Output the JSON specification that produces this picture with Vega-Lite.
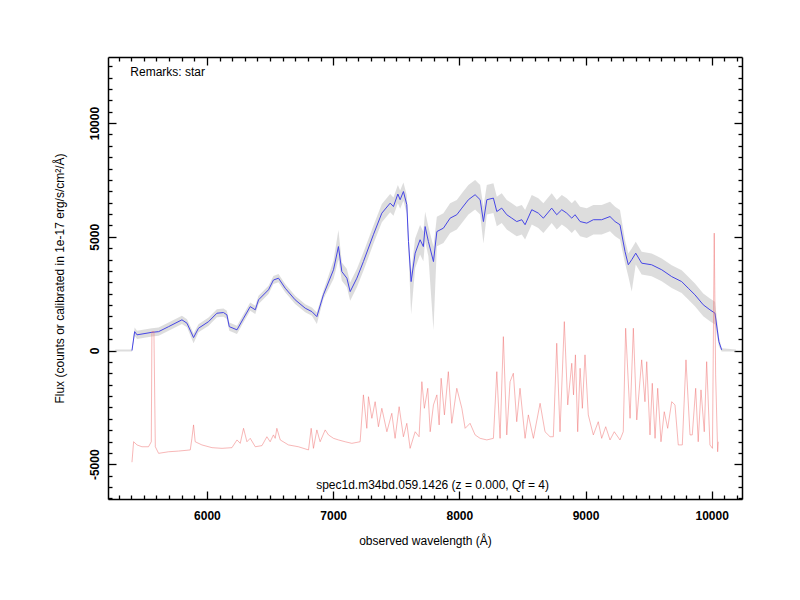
{
  "$schema": "https://vega.github.io/schema/vega-lite/v6.json",
  "width": 634,
  "height": 442,
  "autosize": {"type": "none"},
  "padding": {"left": 108, "top": 57, "right": 58, "bottom": 101},
  "background": "white",
  "config": {
    "view": {"stroke": null},
    "font": "Liberation Sans",
    "axis": {
      "grid": false,
      "domainColor": "black",
      "domainWidth": 1.5,
      "tickColor": "black",
      "tickWidth": 1.3,
      "labelFont": "Liberation Sans",
      "labelFontWeight": "bold",
      "labelFontSize": 12,
      "labelColor": "black",
      "titleFont": "Liberation Sans",
      "titleFontWeight": "normal",
      "titleFontSize": 12,
      "titleColor": "black",
      "labelOverlap": false,
      "labelFlush": false,
      "labelBound": false
    }
  },
  "datasets": {
    "band": [
      {"lam": 5274, "lo": -40, "hi": 40}, {"lam": 5406, "lo": -40, "hi": 40},
      {"lam": 5427, "lo": 650, "hi": 1010}, {"lam": 5446, "lo": 510, "hi": 870},
      {"lam": 5564, "lo": 620, "hi": 980}, {"lam": 5617, "lo": 650, "hi": 1010},
      {"lam": 5696, "lo": 870, "hi": 1230}, {"lam": 5802, "lo": 1170, "hi": 1530},
      {"lam": 5842, "lo": 1020, "hi": 1380}, {"lam": 5894, "lo": 320, "hi": 750},
      {"lam": 5933, "lo": 800, "hi": 1160}, {"lam": 6013, "lo": 1090, "hi": 1450},
      {"lam": 6079, "lo": 1460, "hi": 1820}, {"lam": 6131, "lo": 1490, "hi": 1850},
      {"lam": 6158, "lo": 1390, "hi": 1750}, {"lam": 6177, "lo": 870, "hi": 1230},
      {"lam": 6238, "lo": 730, "hi": 1090}, {"lam": 6290, "lo": 1240, "hi": 1600},
      {"lam": 6343, "lo": 1750, "hi": 2110}, {"lam": 6383, "lo": 1610, "hi": 1970},
      {"lam": 6409, "lo": 2050, "hi": 2410}, {"lam": 6488, "lo": 2490, "hi": 2850},
      {"lam": 6527, "lo": 2920, "hi": 3280}, {"lam": 6567, "lo": 3000, "hi": 3360},
      {"lam": 6620, "lo": 2560, "hi": 2920}, {"lam": 6699, "lo": 2050, "hi": 2410},
      {"lam": 6779, "lo": 1680, "hi": 2040}, {"lam": 6832, "lo": 1530, "hi": 1890},
      {"lam": 6871, "lo": 1170, "hi": 1670}, {"lam": 6923, "lo": 2270, "hi": 2630},
      {"lam": 7003, "lo": 3150, "hi": 3950}, {"lam": 7042, "lo": 4000, "hi": 5300},
      {"lam": 7069, "lo": 3070, "hi": 3870}, {"lam": 7109, "lo": 2780, "hi": 3580},
      {"lam": 7135, "lo": 2190, "hi": 2990}, {"lam": 7188, "lo": 2780, "hi": 3580},
      {"lam": 7240, "lo": 3510, "hi": 4310}, {"lam": 7319, "lo": 4690, "hi": 5490},
      {"lam": 7386, "lo": 5640, "hi": 6440}, {"lam": 7452, "lo": 6080, "hi": 6880},
      {"lam": 7478, "lo": 5930, "hi": 6730}, {"lam": 7513, "lo": 6480, "hi": 7280},
      {"lam": 7531, "lo": 6230, "hi": 7030}, {"lam": 7557, "lo": 6590, "hi": 7390},
      {"lam": 7584, "lo": 6010, "hi": 6810}, {"lam": 7597, "lo": 4390, "hi": 5190},
      {"lam": 7618, "lo": 1600, "hi": 3430}, {"lam": 7650, "lo": 3630, "hi": 4930},
      {"lam": 7689, "lo": 4220, "hi": 5520}, {"lam": 7715, "lo": 3920, "hi": 5220},
      {"lam": 7729, "lo": 4800, "hi": 6100}, {"lam": 7755, "lo": 4140, "hi": 5440},
      {"lam": 7795, "lo": 900, "hi": 4560}, {"lam": 7822, "lo": 4580, "hi": 5880},
      {"lam": 7874, "lo": 4730, "hi": 6030}, {"lam": 7927, "lo": 5170, "hi": 6470},
      {"lam": 7980, "lo": 5320, "hi": 6620}, {"lam": 8020, "lo": 5610, "hi": 6910},
      {"lam": 8072, "lo": 5980, "hi": 7280}, {"lam": 8125, "lo": 6200, "hi": 7500},
      {"lam": 8165, "lo": 5980, "hi": 7280}, {"lam": 8191, "lo": 4700, "hi": 6320},
      {"lam": 8218, "lo": 5980, "hi": 7280}, {"lam": 8270, "lo": 6050, "hi": 7350},
      {"lam": 8297, "lo": 5460, "hi": 6760}, {"lam": 8336, "lo": 5610, "hi": 6910},
      {"lam": 8376, "lo": 5320, "hi": 6620}, {"lam": 8416, "lo": 5170, "hi": 6470},
      {"lam": 8455, "lo": 5020, "hi": 6320}, {"lam": 8495, "lo": 5100, "hi": 6400},
      {"lam": 8521, "lo": 4880, "hi": 6180}, {"lam": 8574, "lo": 5540, "hi": 6840},
      {"lam": 8626, "lo": 5390, "hi": 6690}, {"lam": 8666, "lo": 5170, "hi": 6470},
      {"lam": 8732, "lo": 5610, "hi": 6910}, {"lam": 8772, "lo": 5320, "hi": 6620},
      {"lam": 8812, "lo": 5540, "hi": 6840}, {"lam": 8851, "lo": 5390, "hi": 6690},
      {"lam": 8891, "lo": 5170, "hi": 6470}, {"lam": 8917, "lo": 5320, "hi": 6620},
      {"lam": 8957, "lo": 5020, "hi": 6320}, {"lam": 9010, "lo": 4950, "hi": 6250},
      {"lam": 9062, "lo": 5100, "hi": 6400}, {"lam": 9128, "lo": 5100, "hi": 6400},
      {"lam": 9194, "lo": 5240, "hi": 6540}, {"lam": 9234, "lo": 5020, "hi": 6320},
      {"lam": 9273, "lo": 4880, "hi": 6180}, {"lam": 9313, "lo": 3850, "hi": 4850},
      {"lam": 9339, "lo": 3270, "hi": 4270}, {"lam": 9366, "lo": 2600, "hi": 4490},
      {"lam": 9398, "lo": 3780, "hi": 4780}, {"lam": 9445, "lo": 3340, "hi": 4340},
      {"lam": 9524, "lo": 3270, "hi": 4270}, {"lam": 9604, "lo": 3050, "hi": 4050},
      {"lam": 9683, "lo": 2750, "hi": 3750}, {"lam": 9762, "lo": 2530, "hi": 3530},
      {"lam": 9814, "lo": 2240, "hi": 3240}, {"lam": 9867, "lo": 1950, "hi": 2950},
      {"lam": 9933, "lo": 1510, "hi": 2510}, {"lam": 9986, "lo": 1290, "hi": 2290},
      {"lam": 10026, "lo": 1140, "hi": 2140}, {"lam": 10057, "lo": 190, "hi": 590},
      {"lam": 10079, "lo": -40, "hi": 100}, {"lam": 10192, "lo": -40, "hi": 40}
    ],
    "smooth": [
      {"lam": 5406, "flux": 0}, {"lam": 5427, "flux": 830}, {"lam": 5446, "flux": 690},
      {"lam": 5564, "flux": 800}, {"lam": 5617, "flux": 830}, {"lam": 5696, "flux": 1050},
      {"lam": 5802, "flux": 1350}, {"lam": 5842, "flux": 1200}, {"lam": 5894, "flux": 570},
      {"lam": 5933, "flux": 980}, {"lam": 6013, "flux": 1270}, {"lam": 6079, "flux": 1640},
      {"lam": 6131, "flux": 1670}, {"lam": 6158, "flux": 1570}, {"lam": 6177, "flux": 1050},
      {"lam": 6238, "flux": 910}, {"lam": 6290, "flux": 1420}, {"lam": 6343, "flux": 1930},
      {"lam": 6383, "flux": 1790}, {"lam": 6409, "flux": 2230}, {"lam": 6488, "flux": 2670},
      {"lam": 6527, "flux": 3100}, {"lam": 6567, "flux": 3180}, {"lam": 6620, "flux": 2740},
      {"lam": 6699, "flux": 2230}, {"lam": 6779, "flux": 1860}, {"lam": 6832, "flux": 1710},
      {"lam": 6871, "flux": 1490}, {"lam": 6923, "flux": 2450}, {"lam": 7003, "flux": 3550},
      {"lam": 7042, "flux": 4570}, {"lam": 7069, "flux": 3470}, {"lam": 7109, "flux": 3180},
      {"lam": 7135, "flux": 2590}, {"lam": 7188, "flux": 3180}, {"lam": 7240, "flux": 3910},
      {"lam": 7319, "flux": 5090}, {"lam": 7386, "flux": 6040}, {"lam": 7452, "flux": 6480},
      {"lam": 7478, "flux": 6330}, {"lam": 7513, "flux": 6880}, {"lam": 7531, "flux": 6630},
      {"lam": 7557, "flux": 6990}, {"lam": 7584, "flux": 6410}, {"lam": 7597, "flux": 4790},
      {"lam": 7618, "flux": 3030}, {"lam": 7650, "flux": 4280}, {"lam": 7689, "flux": 4870},
      {"lam": 7715, "flux": 4570}, {"lam": 7729, "flux": 5450}, {"lam": 7755, "flux": 4790},
      {"lam": 7795, "flux": 3910}, {"lam": 7822, "flux": 5230}, {"lam": 7874, "flux": 5380},
      {"lam": 7927, "flux": 5820}, {"lam": 7980, "flux": 5970}, {"lam": 8020, "flux": 6260},
      {"lam": 8072, "flux": 6630}, {"lam": 8125, "flux": 6850}, {"lam": 8165, "flux": 6630},
      {"lam": 8191, "flux": 5670}, {"lam": 8218, "flux": 6630}, {"lam": 8270, "flux": 6700},
      {"lam": 8297, "flux": 6110}, {"lam": 8336, "flux": 6260}, {"lam": 8376, "flux": 5970},
      {"lam": 8416, "flux": 5820}, {"lam": 8455, "flux": 5670}, {"lam": 8495, "flux": 5750},
      {"lam": 8521, "flux": 5530}, {"lam": 8574, "flux": 6190}, {"lam": 8626, "flux": 6040},
      {"lam": 8666, "flux": 5820}, {"lam": 8732, "flux": 6260}, {"lam": 8772, "flux": 5970},
      {"lam": 8812, "flux": 6190}, {"lam": 8851, "flux": 6040}, {"lam": 8891, "flux": 5820},
      {"lam": 8917, "flux": 5970}, {"lam": 8957, "flux": 5670}, {"lam": 9010, "flux": 5600},
      {"lam": 9062, "flux": 5750}, {"lam": 9128, "flux": 5750}, {"lam": 9194, "flux": 5890},
      {"lam": 9234, "flux": 5670}, {"lam": 9273, "flux": 5530}, {"lam": 9313, "flux": 4350},
      {"lam": 9339, "flux": 3770}, {"lam": 9366, "flux": 3990}, {"lam": 9398, "flux": 4280},
      {"lam": 9445, "flux": 3840}, {"lam": 9524, "flux": 3770}, {"lam": 9604, "flux": 3550},
      {"lam": 9683, "flux": 3250}, {"lam": 9762, "flux": 3030}, {"lam": 9814, "flux": 2740},
      {"lam": 9867, "flux": 2450}, {"lam": 9933, "flux": 2010}, {"lam": 9986, "flux": 1790},
      {"lam": 10026, "flux": 1640}, {"lam": 10057, "flux": 390}, {"lam": 10079, "flux": 30}
    ],
    "sky": [
      {"lam": 5406, "flux": -4910}, {"lam": 5419, "flux": -4010}, {"lam": 5446, "flux": -4150},
      {"lam": 5485, "flux": -4230}, {"lam": 5537, "flux": -4230}, {"lam": 5559, "flux": -4010},
      {"lam": 5564, "flux": 830}, {"lam": 5580, "flux": 830}, {"lam": 5591, "flux": -4230},
      {"lam": 5617, "flux": -4520}, {"lam": 5696, "flux": -4450}, {"lam": 5775, "flux": -4420},
      {"lam": 5868, "flux": -4370}, {"lam": 5881, "flux": -3860}, {"lam": 5894, "flux": -3270},
      {"lam": 5907, "flux": -4010}, {"lam": 5960, "flux": -4150}, {"lam": 6040, "flux": -4270},
      {"lam": 6119, "flux": -4300}, {"lam": 6198, "flux": -4270}, {"lam": 6238, "flux": -3930},
      {"lam": 6264, "flux": -4080}, {"lam": 6290, "flux": -3420}, {"lam": 6317, "flux": -4010},
      {"lam": 6343, "flux": -3860}, {"lam": 6383, "flux": -4230}, {"lam": 6436, "flux": -4180},
      {"lam": 6475, "flux": -3790}, {"lam": 6501, "flux": -4010}, {"lam": 6527, "flux": -3710},
      {"lam": 6541, "flux": -3860}, {"lam": 6554, "flux": -3420}, {"lam": 6581, "flux": -3930},
      {"lam": 6646, "flux": -4150}, {"lam": 6725, "flux": -4230}, {"lam": 6805, "flux": -4370},
      {"lam": 6826, "flux": -3420}, {"lam": 6844, "flux": -4300}, {"lam": 6871, "flux": -3490},
      {"lam": 6897, "flux": -4010}, {"lam": 6937, "flux": -3490}, {"lam": 6963, "flux": -3710},
      {"lam": 7003, "flux": -3860}, {"lam": 7042, "flux": -3930}, {"lam": 7095, "flux": -4010},
      {"lam": 7148, "flux": -4080}, {"lam": 7214, "flux": -4010}, {"lam": 7240, "flux": -1950},
      {"lam": 7267, "flux": -3420}, {"lam": 7280, "flux": -2030}, {"lam": 7307, "flux": -2980},
      {"lam": 7333, "flux": -2250}, {"lam": 7359, "flux": -3350}, {"lam": 7386, "flux": -2540},
      {"lam": 7426, "flux": -3570}, {"lam": 7465, "flux": -2760}, {"lam": 7491, "flux": -3860},
      {"lam": 7523, "flux": -2470}, {"lam": 7557, "flux": -3790}, {"lam": 7584, "flux": -3200},
      {"lam": 7610, "flux": -4300}, {"lam": 7650, "flux": -3570}, {"lam": 7681, "flux": -3790},
      {"lam": 7703, "flux": -1370}, {"lam": 7723, "flux": -2540}, {"lam": 7750, "flux": -1660},
      {"lam": 7769, "flux": -3570}, {"lam": 7795, "flux": -2390}, {"lam": 7822, "flux": -1950},
      {"lam": 7840, "flux": -3270}, {"lam": 7856, "flux": -1220}, {"lam": 7882, "flux": -2830},
      {"lam": 7913, "flux": -930}, {"lam": 7940, "flux": -3200}, {"lam": 7980, "flux": -1660},
      {"lam": 8020, "flux": -2540}, {"lam": 8046, "flux": -3420}, {"lam": 8085, "flux": -3200},
      {"lam": 8125, "flux": -3710}, {"lam": 8165, "flux": -3860}, {"lam": 8218, "flux": -3930},
      {"lam": 8270, "flux": -3860}, {"lam": 8297, "flux": -930}, {"lam": 8323, "flux": -3860},
      {"lam": 8349, "flux": 610}, {"lam": 8376, "flux": -3710}, {"lam": 8402, "flux": -1370},
      {"lam": 8428, "flux": -1000}, {"lam": 8455, "flux": -3130}, {"lam": 8481, "flux": -1660},
      {"lam": 8521, "flux": -3860}, {"lam": 8547, "flux": -2830}, {"lam": 8587, "flux": -3860},
      {"lam": 8640, "flux": -2320}, {"lam": 8679, "flux": -3570}, {"lam": 8719, "flux": -3790},
      {"lam": 8745, "flux": -3790}, {"lam": 8772, "flux": 320}, {"lam": 8798, "flux": -3570},
      {"lam": 8832, "flux": 1270}, {"lam": 8859, "flux": -2390}, {"lam": 8891, "flux": -560},
      {"lam": 8905, "flux": -1950}, {"lam": 8920, "flux": -190}, {"lam": 8938, "flux": -3570},
      {"lam": 8957, "flux": -780}, {"lam": 8975, "flux": -2540}, {"lam": 8996, "flux": -190},
      {"lam": 9022, "flux": -2830}, {"lam": 9062, "flux": -3710}, {"lam": 9101, "flux": -3130},
      {"lam": 9128, "flux": -3860}, {"lam": 9160, "flux": -3350}, {"lam": 9194, "flux": -3930},
      {"lam": 9228, "flux": -3570}, {"lam": 9273, "flux": -3930}, {"lam": 9299, "flux": -3570},
      {"lam": 9318, "flux": 980}, {"lam": 9353, "flux": -2980}, {"lam": 9379, "flux": 980},
      {"lam": 9406, "flux": -3050}, {"lam": 9445, "flux": -410}, {"lam": 9471, "flux": -2250},
      {"lam": 9485, "flux": -490}, {"lam": 9511, "flux": -3710}, {"lam": 9529, "flux": -1440},
      {"lam": 9551, "flux": -3860}, {"lam": 9572, "flux": -1660}, {"lam": 9598, "flux": -4010},
      {"lam": 9624, "flux": -2690}, {"lam": 9651, "flux": -3420}, {"lam": 9683, "flux": -2250},
      {"lam": 9709, "flux": -2390}, {"lam": 9735, "flux": -4150}, {"lam": 9767, "flux": -4150},
      {"lam": 9796, "flux": -410}, {"lam": 9828, "flux": -3710}, {"lam": 9846, "flux": -3710},
      {"lam": 9873, "flux": -1660}, {"lam": 9893, "flux": -4010}, {"lam": 9915, "flux": -1730},
      {"lam": 9941, "flux": -3570}, {"lam": 9960, "flux": -490}, {"lam": 9986, "flux": -4150},
      {"lam": 10006, "flux": -4300}, {"lam": 10020, "flux": 5160}, {"lam": 10031, "flux": -1070},
      {"lam": 10047, "flux": -4450}, {"lam": 10052, "flux": -4010}
    ]
  },
  "layer": [
    {
      "data": {"name": "band"},
      "mark": {"type": "area", "color": "#bcbcbc", "opacity": 0.5, "clip": true},
      "encoding": {
        "x": {
          "field": "lam",
          "type": "quantitative",
          "scale": {"domain": [5216, 10240], "nice": false, "zero": false},
          "axis": {
            "orient": "bottom",
            "title": "observed wavelength (Å)",
            "titlePadding": 10,
            "values": [5300, 5400, 5500, 5600, 5700, 5800, 5900, 6000, 6100, 6200, 6300, 6400, 6500, 6600, 6700, 6800, 6900, 7000, 7100, 7200, 7300, 7400, 7500, 7600, 7700, 7800, 7900, 8000, 8100, 8200, 8300, 8400, 8500, 8600, 8700, 8800, 8900, 9000, 9100, 9200, 9300, 9400, 9500, 9600, 9700, 9800, 9900, 10000, 10100, 10200],
            "labelExpr": "datum.value % 1000 == 0 ? '' + datum.value : ''",
            "tickSize": {"condition": {"test": "datum.value % 1000 == 0", "value": -8}, "value": -4},
            "labelPadding": 19
          }
        },
        "y": {
          "field": "lo",
          "type": "quantitative",
          "scale": {"domain": [-6527, 12904], "nice": false, "zero": false},
          "axis": {
            "orient": "left",
            "title": "Flux (counts or calibrated in 1e-17 erg/s/cm²/Å)",
            "titlePadding": 18,
            "values": [-6500, -6000, -5500, -5000, -4500, -4000, -3500, -3000, -2500, -2000, -1500, -1000, -500, 0, 500, 1000, 1500, 2000, 2500, 3000, 3500, 4000, 4500, 5000, 5500, 6000, 6500, 7000, 7500, 8000, 8500, 9000, 9500, 10000, 10500, 11000, 11500, 12000, 12500],
            "labelExpr": "datum.value % 5000 == 0 ? '' + datum.value : ''",
            "labelAngle": -90,
            "labelAlign": "center",
            "labelBaseline": "alphabetic",
            "tickSize": {"condition": {"test": "datum.value % 5000 == 0", "value": -8}, "value": -4},
            "labelPadding": 18
          }
        },
        "y2": {"field": "hi"}
      }
    },
    {
      "data": {"name": "smooth"},
      "mark": {"type": "line", "color": "#4646e6", "strokeWidth": 1, "clip": true},
      "encoding": {
        "x": {
          "field": "lam",
          "type": "quantitative",
          "scale": {"domain": [5216, 10240], "nice": false, "zero": false},
          "axis": {
            "orient": "top",
            "title": null,
            "labels": false,
            "values": [5300, 5400, 5500, 5600, 5700, 5800, 5900, 6000, 6100, 6200, 6300, 6400, 6500, 6600, 6700, 6800, 6900, 7000, 7100, 7200, 7300, 7400, 7500, 7600, 7700, 7800, 7900, 8000, 8100, 8200, 8300, 8400, 8500, 8600, 8700, 8800, 8900, 9000, 9100, 9200, 9300, 9400, 9500, 9600, 9700, 9800, 9900, 10000, 10100, 10200],
            "tickSize": {"condition": {"test": "datum.value % 1000 == 0", "value": -8}, "value": -4}
          }
        },
        "y": {
          "field": "flux",
          "type": "quantitative",
          "scale": {"domain": [-6527, 12904], "nice": false, "zero": false},
          "axis": {
            "orient": "right",
            "title": null,
            "labels": false,
            "values": [-6500, -6000, -5500, -5000, -4500, -4000, -3500, -3000, -2500, -2000, -1500, -1000, -500, 0, 500, 1000, 1500, 2000, 2500, 3000, 3500, 4000, 4500, 5000, 5500, 6000, 6500, 7000, 7500, 8000, 8500, 9000, 9500, 10000, 10500, 11000, 11500, 12000, 12500],
            "tickSize": {"condition": {"test": "datum.value % 5000 == 0", "value": -8}, "value": -4}
          }
        }
      }
    },
    {
      "data": {"name": "sky"},
      "mark": {"type": "line", "color": "#f07070", "strokeWidth": 0.6, "opacity": 0.85, "clip": true},
      "encoding": {
        "x": {"field": "lam", "type": "quantitative", "axis": null},
        "y": {"field": "flux", "type": "quantitative", "axis": null}
      }
    },
    {
      "data": {"values": [{}]},
      "mark": {"type": "text", "text": "Remarks: star", "align": "left", "baseline": "middle", "fontSize": 12, "font": "Liberation Sans", "color": "black"},
      "encoding": {
        "x": {"datum": 5393, "type": "quantitative", "axis": null},
        "y": {"datum": 12236, "type": "quantitative", "axis": null}
      }
    },
    {
      "data": {"values": [{}]},
      "mark": {"type": "text", "text": "spec1d.m34bd.059.1426 (z = 0.000, Qf = 4)", "align": "center", "baseline": "middle", "fontSize": 12, "font": "Liberation Sans", "color": "black"},
      "encoding": {
        "x": {"datum": 7788, "type": "quantitative", "axis": null},
        "y": {"datum": -5914, "type": "quantitative", "axis": null}
      }
    }
  ],
  "resolve": {"axis": {"x": "independent", "y": "independent"}}
}
